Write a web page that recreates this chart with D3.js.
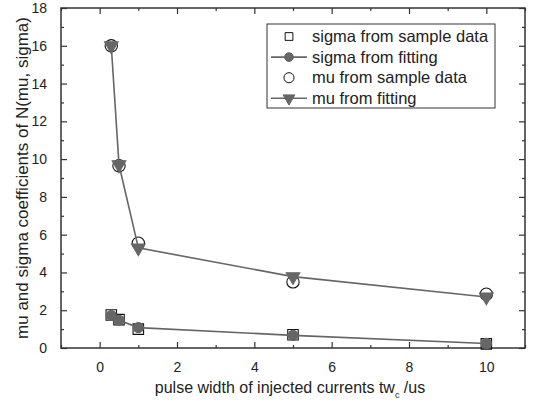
<!DOCTYPE html>
<html>
<head>
<meta charset="utf-8">
<script src="https://cdn.jsdelivr.net/npm/d3@7"></script>
<style>
  body { margin: 0; background: #fff; }
  text { font-family: "Liberation Sans", Arial, sans-serif; fill: #222; }
</style>
</head>
<body>
<div id="chart"></div>
<script>
// pulse width (us) and fitted N(mu, sigma) coefficients
var pulseWidth = [0.3, 0.5, 1, 5, 10];
var sigmaSample = [1.75, 1.5, 1.0, 0.7, 0.22];
var sigmaFit = [1.72, 1.47, 1.08, 0.67, 0.24];
var muSample = [16.0, 9.65, 5.55, 3.5, 2.85];
var muFit = [16.0, 9.7, 5.3, 3.78, 2.7];

var xTicks = [0, 2, 4, 6, 8, 10];
var yTicks = [0, 2, 4, 6, 8, 10, 12, 14, 16, 18];

var W = 533, H = 404;
var margin = {top: 8, right: 8, bottom: 56, left: 61},
  width = W - margin.left - margin.right,
  height = H - margin.top - margin.bottom;

var lineColor = "#666";

var svg = d3.select("#chart").append("svg")
  .attr("width", W)
  .attr("height", H)
  .append("g")
    .attr("transform", "translate(" + margin.left + "," + margin.top + ")");

var x = d3.scaleLinear().domain([-1, 11]).range([0, width]);
var y = d3.scaleLinear().domain([0, 18]).range([height, 0]);

var xMinor = d3.range(-1, 11.01, 1).filter(d => xTicks.indexOf(d) < 0);
var yMinor = d3.range(1, 18, 2);

// frame ticks, all pointing inward
function tickAxis(axisFn, scale, vals, len, transform, labels) {
  var g = svg.append("g")
    .attr("transform", transform)
    .call(axisFn(scale).tickValues(vals).tickSize(-len).tickPadding(labels ? 8 + len : 0)
      .tickFormat(labels ? d3.format("d") : ""));
  g.select(".domain").remove();
  g.selectAll(".tick line").attr("stroke", "#333").attr("stroke-width", 1.2);
  g.selectAll(".tick text").style("font-size", "14px").attr("fill", "#222");
  return g;
}

tickAxis(d3.axisBottom, x, xTicks, 6, "translate(0," + height + ")", true);
tickAxis(d3.axisBottom, x, xMinor, 3, "translate(0," + height + ")", false);
tickAxis(d3.axisTop, x, xTicks, 6, "translate(0,0)", false);
tickAxis(d3.axisTop, x, xMinor, 3, "translate(0,0)", false);
tickAxis(d3.axisLeft, y, yTicks, 6, "translate(0,0)", true);
tickAxis(d3.axisLeft, y, yMinor, 3, "translate(0,0)", false);
tickAxis(d3.axisRight, y, yTicks, 6, "translate(" + width + ",0)", false);
tickAxis(d3.axisRight, y, yMinor, 3, "translate(" + width + ",0)", false);

svg.append("rect")
  .attr("width", width)
  .attr("height", height)
  .attr("fill", "none")
  .attr("stroke", "#333")
  .attr("stroke-width", 1.5);

var line = d3.line()
  .x((d, i) => x(pulseWidth[i]))
  .y(d => y(d));

var sym = {
  square: d3.symbol().type(d3.symbolSquare).size(110),
  circle: d3.symbol().type(d3.symbolCircle).size(80),
  open: d3.symbol().type(d3.symbolCircle).size(120),
  tri: d3.symbol().type(d3.symbolTriangle).size(80)
};

function markers(vals, path, fill, stroke, rot) {
  svg.append("g").selectAll("path")
    .data(vals)
    .enter().append("path")
      .attr("d", path)
      .attr("transform", (d, i) => "translate(" + x(pulseWidth[i]) + "," + y(d) + ")" + (rot ? " rotate(180)" : ""))
      .attr("fill", fill)
      .attr("stroke", stroke)
      .attr("stroke-width", 1.1);
}

// sigma
markers(sigmaSample, sym.square, "none", "#111", false);
svg.append("path").datum(sigmaFit)
  .attr("d", line).attr("fill", "none").attr("stroke", lineColor).attr("stroke-width", 1.6);
markers(sigmaFit, sym.circle, lineColor, lineColor, false);

// mu
markers(muSample, sym.open, "none", "#111", false);
svg.append("path").datum(muFit)
  .attr("d", line).attr("fill", "none").attr("stroke", lineColor).attr("stroke-width", 1.6);
markers(muFit, sym.tri, lineColor, lineColor, true);

// axis titles
var xTitle = svg.append("text")
  .attr("transform", "translate(" + (x(5) - 3) + "," + (height + 45) + ")")
  .style("text-anchor", "middle")
  .style("font-size", "16px");
xTitle.append("tspan").text("pulse width of injected currents tw");
xTitle.append("tspan").attr("dy", 5).style("font-size", "9px").text("c");
xTitle.append("tspan").attr("dy", -5).text(" /us");

svg.append("text")
  .attr("transform", "rotate(-90)")
  .attr("x", -height / 2)
  .attr("y", -33)
  .style("text-anchor", "middle")
  .style("font-size", "17px")
  .text("mu and sigma coefficients of N(mu, sigma)");

// legend
var legendItems = [
  {label: "sigma from sample data", path: sym.square, fill: "none", stroke: "#111", line: false, rot: false},
  {label: "sigma from fitting", path: sym.circle, fill: lineColor, stroke: lineColor, line: true, rot: false},
  {label: "mu from sample data", path: sym.open, fill: "none", stroke: "#111", line: false, rot: false},
  {label: "mu from fitting", path: sym.tri, fill: lineColor, stroke: lineColor, line: true, rot: true}
];

var legend = svg.append("g").attr("transform", "translate(" + (267 - margin.left) + "," + (24 - margin.top) + ")");
legend.append("rect")
  .attr("width", 228).attr("height", 84)
  .attr("fill", "#fff").attr("stroke", "#333").attr("stroke-width", 1);

var row = legend.selectAll(".row")
  .data(legendItems)
  .enter().append("g")
    .attr("transform", (d, i) => "translate(0," + (12.5 + i * 20.6) + ")");

row.filter(d => d.line).append("line")
  .attr("x1", 4).attr("x2", 40)
  .attr("stroke", lineColor).attr("stroke-width", 1.6);
row.append("path")
  .attr("d", d => d.path.size(d.path === sym.open ? 80 : 60)())
  .attr("transform", d => "translate(22,0)" + (d.rot ? " rotate(180)" : ""))
  .attr("fill", d => d.fill)
  .attr("stroke", d => d.stroke)
  .attr("stroke-width", 1);
row.append("text")
  .attr("x", 45)
  .attr("dy", "0.35em")
  .style("font-size", "16.5px")
  .text(d => d.label);
</script>
</body>
</html>
